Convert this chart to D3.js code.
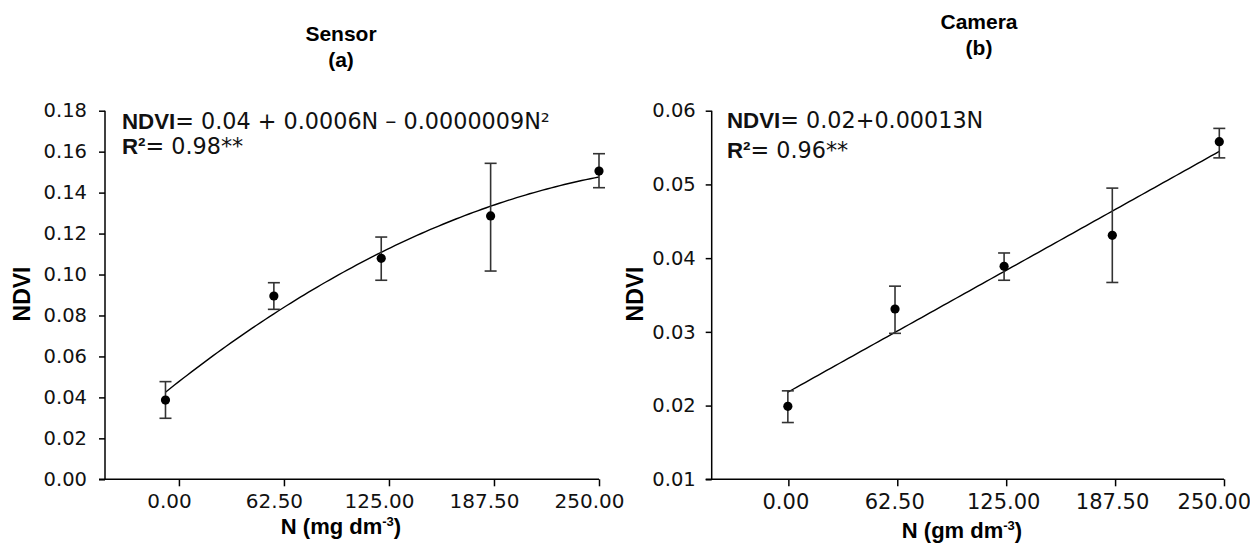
<!DOCTYPE html>
<html><head><meta charset="utf-8">
<script src="https://cdn.jsdelivr.net/npm/d3@7"></script>
<style>
body{margin:0;background:#fff;}
svg{display:block;}
</style></head>
<body>
<svg id="chart" width="1250" height="546"></svg>
<script>
// ---------- data ----------
const xTicks = [0, 62.5, 125, 187.5, 250];

const sensorN    = [-8, 56.5, 120.4, 185.5, 250];
const sensorNDVI = [0.0387, 0.0895, 0.1079, 0.1286, 0.1505];
const sensorHigh = [0.0477, 0.0960, 0.1183, 0.1543, 0.1590];
const sensorLow  = [0.0298, 0.0830, 0.0972, 0.1017, 0.1424];
const sensorYTicks = [0, 0.02, 0.04, 0.06, 0.08, 0.10, 0.12, 0.14, 0.16, 0.18];

const cameraN    = [-0.3, 61.2, 123.8, 185.9, 247.3];
const cameraNDVI = [0.0199, 0.0331, 0.0389, 0.0431, 0.0558];
const cameraHigh = [0.0220, 0.0362, 0.0407, 0.0495, 0.0576];
const cameraLow  = [0.0177, 0.0298, 0.0370, 0.0367, 0.0536];
const cameraYTicks = [0.01, 0.02, 0.03, 0.04, 0.05, 0.06];

// ---------- helpers ----------
function polyFit(xs, ys, deg){
  const n = deg + 1;
  const A = Array.from({length:n}, () => new Array(n).fill(0));
  const b = new Array(n).fill(0);
  xs.forEach((x,i) => {
    for (let r=0;r<n;r++){
      b[r] += ys[i]*Math.pow(x,r);
      for (let c=0;c<n;c++) A[r][c] += Math.pow(x,r+c);
    }
  });
  for (let i=0;i<n;i++){
    let p=i; for(let k=i+1;k<n;k++) if(Math.abs(A[k][i])>Math.abs(A[p][i])) p=k;
    [A[i],A[p]]=[A[p],A[i]]; [b[i],b[p]]=[b[p],b[i]];
    for (let k=i+1;k<n;k++){
      const f=A[k][i]/A[i][i];
      for(let c=i;c<n;c++) A[k][c]-=f*A[i][c];
      b[k]-=f*b[i];
    }
  }
  const coef=new Array(n).fill(0);
  for (let i=n-1;i>=0;i--){
    let s=b[i]; for(let c=i+1;c<n;c++) s-=A[i][c]*coef[c];
    coef[i]=s/A[i][i];
  }
  return x => coef.reduce((acc,c,k)=>acc+c*Math.pow(x,k),0);
}

const svg = d3.select("#chart");
const W = 1250;
const REG = "'DejaVu Sans', sans-serif";
const BOLD = "'Liberation Sans', Arial, sans-serif";

function panel(cfg){
  const x = d3.scaleLinear().domain([-44, 250]).range([cfg.x0, cfg.x1]);
  const y = d3.scaleLinear().domain(cfg.yDomain).range([cfg.yBottom, cfg.yTop]);
  const g = svg.append("g");

  // y axis
  const ya = d3.axisLeft(y).tickValues(cfg.yTicks).tickFormat(d3.format(".2f"))
      .tickSize(6).tickPadding(cfg.yPad);
  const yg = g.append("g").attr("transform", `translate(${cfg.x0},0)`).call(ya);
  yg.select(".domain").remove();
  yg.selectAll(".tick line").attr("stroke","#000").attr("stroke-width",1.5);
  yg.selectAll(".tick text").attr("font-family",REG).attr("font-size",19.5).attr("fill","#111");

  // x axis
  const xa = d3.axisBottom(x).tickValues(xTicks).tickFormat(d3.format(".2f"))
      .tickSize(7).tickPadding(8);
  const xg = g.append("g").attr("transform", `translate(0,${cfg.yBottom})`).call(xa);
  xg.select(".domain").remove();
  xg.selectAll(".tick line").attr("stroke","#000").attr("stroke-width",1.5);
  xg.selectAll(".tick text").attr("font-family",REG).attr("font-size",cfg.xFont)
    .attr("fill","#111").attr("dx",cfg.xDx);
  // keep labels inside the picture
  xg.selectAll(".tick text").each(function(){
    const bb = this.getBBox();
    const tr = this.parentNode.transform.baseVal.consolidate().matrix.e;
    const right = tr + bb.x + bb.width + cfg.xDx;
    if (right > W - 2) d3.select(this).attr("dx", cfg.xDx - (right - (W - 2)));
  });

  // axis lines
  g.append("line").attr("x1",cfg.x0).attr("x2",cfg.x0).attr("y1",y(cfg.yDomain[1])).attr("y2",cfg.yBottom)
    .attr("stroke","#000").attr("stroke-width",1.5);
  g.append("line").attr("x1",cfg.x0-6).attr("x2",x(250)).attr("y1",cfg.yBottom).attr("y2",cfg.yBottom)
    .attr("stroke","#000").attr("stroke-width",1.5);

  // trend line
  const f = polyFit(cfg.n, cfg.v, cfg.deg);
  const xs = d3.range(0, 101).map(i => cfg.n[0] + (cfg.n[cfg.n.length-1]-cfg.n[0])*i/100);
  g.append("path").datum(xs)
    .attr("d", d3.line().x(d=>x(d)).y(d=>y(f(d))))
    .attr("fill","none").attr("stroke","#000").attr("stroke-width",1.4);

  // error bars
  const eb = g.append("g").attr("stroke","#333").attr("stroke-width",1.6);
  cfg.n.forEach((n,i) => {
    eb.append("line").attr("x1",x(n)).attr("x2",x(n)).attr("y1",y(cfg.hi[i])).attr("y2",y(cfg.lo[i]));
    eb.append("line").attr("x1",x(n)-6).attr("x2",x(n)+6).attr("y1",y(cfg.hi[i])).attr("y2",y(cfg.hi[i]));
    eb.append("line").attr("x1",x(n)-6).attr("x2",x(n)+6).attr("y1",y(cfg.lo[i])).attr("y2",y(cfg.lo[i]));
  });
  // points
  g.selectAll("circle.pt").data(cfg.n).enter().append("circle")
    .attr("cx", d=>x(d)).attr("cy",(d,i)=>y(cfg.v[i])).attr("r",4.6).attr("fill","#000");

  // titles
  const t = g.append("text").attr("text-anchor","middle").attr("font-family",BOLD)
    .attr("font-weight","bold").attr("font-size",21).attr("fill","#000");
  t.append("tspan").attr("x",cfg.titleX).attr("y",cfg.titleY).text(cfg.title);
  t.append("tspan").attr("x",cfg.titleX).attr("y",cfg.titleY+26).text(cfg.sub);

  // x label
  const xl = g.append("text").attr("text-anchor","middle").attr("x",cfg.xLabelX).attr("y",cfg.xLabelY)
    .attr("font-family",BOLD).attr("font-weight","bold").attr("font-size",22).attr("fill","#000");
  xl.append("tspan").text(cfg.xLabel);
  xl.append("tspan").attr("font-size",13).attr("dy",-8).text("-3");
  xl.append("tspan").attr("dy",8).text(")");

  // y label
  g.append("text").attr("transform",`translate(${cfg.yLabelX},294) rotate(-90)`)
    .attr("text-anchor","middle").attr("font-family",BOLD).attr("font-weight","bold")
    .attr("font-size",23).attr("fill","#000").text("NDVI");

  // equation
  const e1 = g.append("text").attr("x",cfg.eqX).attr("y",cfg.eqY).attr("font-size",22.3).attr("fill","#111");
  e1.append("tspan").attr("font-family",BOLD).attr("font-weight","bold").text("NDVI");
  e1.append("tspan").attr("font-family",REG).text(cfg.eq);
  const e2 = g.append("text").attr("x",cfg.eqX).attr("y",cfg.eqY+cfg.eqGap).attr("font-size",22.3).attr("fill","#111");
  e2.append("tspan").attr("font-family",BOLD).attr("font-weight","bold").text("R²");
  e2.append("tspan").attr("font-family",REG).text(cfg.r2);
}

panel({
  x0:105, x1:599, yTop:110.7, yBottom:479.3, yDomain:[0,0.18], yTicks:sensorYTicks, yPad:12,
  xFont:20, xDx:-10,
  n:sensorN, v:sensorNDVI, hi:sensorHigh, lo:sensorLow, deg:2,
  title:"Sensor", sub:"(a)", titleX:341, titleY:41,
  xLabel:"N (mg dm", xLabelX:341, xLabelY:534,
  yLabelX:30, eqX:122, eqY:128.5, eqGap:25,
  eq:"= 0.04 + 0.0006N – 0.0000009N²", r2:"= 0.98**"
});
panel({
  x0:711.7, x1:1224, yTop:110.7, yBottom:479.3, yDomain:[0.01,0.06], yTicks:cameraYTicks, yPad:10,
  xFont:21, xDx:-3,
  n:cameraN, v:cameraNDVI, hi:cameraHigh, lo:cameraLow, deg:1,
  title:"Camera", sub:"(b)", titleX:979, titleY:29,
  xLabel:"N (gm dm", xLabelX:962, xLabelY:538,
  yLabelX:643, eqX:727, eqY:127.5, eqGap:30,
  eq:"= 0.02+0.00013N", r2:"= 0.96**"
});
</script>
</body></html>
